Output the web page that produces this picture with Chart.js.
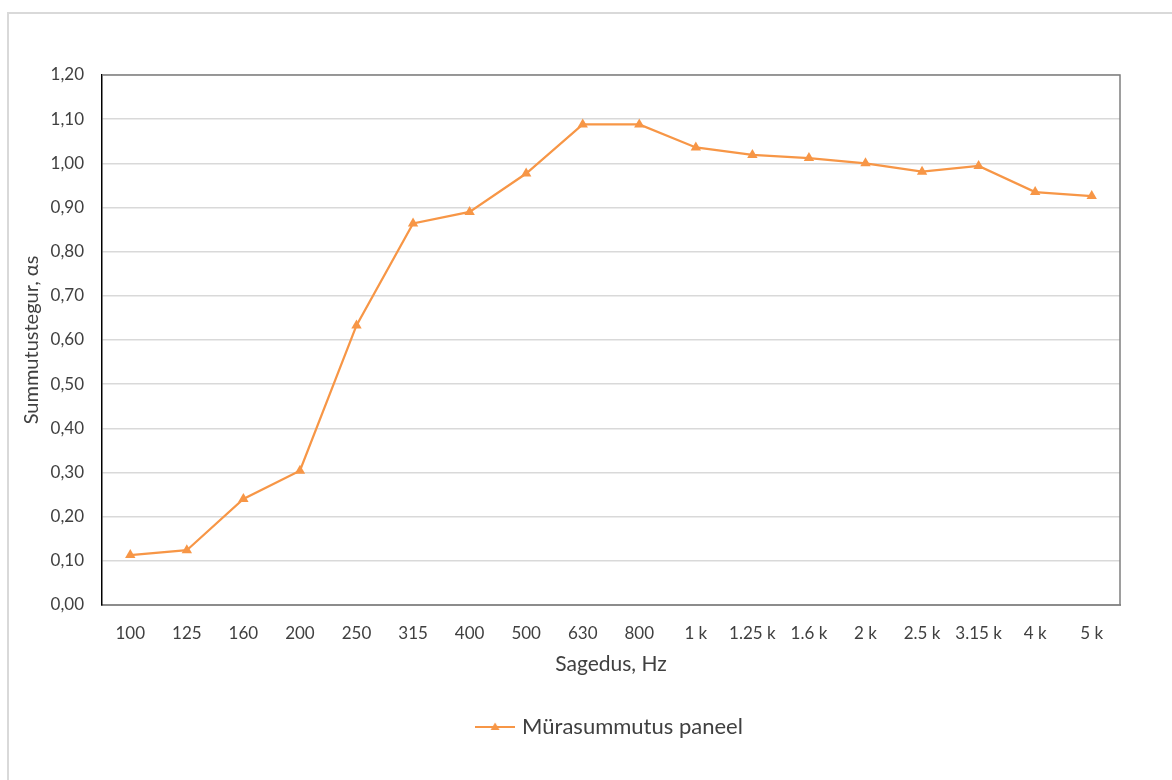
<!DOCTYPE html>
<html>
<head>
<meta charset="utf-8">
<script src="https://cdn.jsdelivr.net/npm/chart.js@4/dist/chart.umd.min.js"></script>
<style>
  html, body { margin: 0; padding: 0; background: #fff; }
  #frame {
    position: absolute; left: 7px; top: 12px; width: 1200px; height: 800px;
    border-top: 2px solid #d9d9d9; border-left: 2px solid #d9d9d9;
    box-sizing: border-box;
  }
  #wrap { position: absolute; left: 0; top: 0; width: 1172px; height: 780px; }
</style>
</head>
<body>
<div id="frame"></div>
<div id="wrap"><canvas id="chart" width="1172" height="780"></canvas></div>
<script>
// Frequency bands (Hz) and measured sound absorption coefficient
const categories = ['100', '125', '160', '200', '250', '315', '400', '500', '630', '800',
                    '1 k', '1.25 k', '1.6 k', '2 k', '2.5 k', '3.15 k', '4 k', '5 k'];
const absorption = [0.113, 0.124, 0.240, 0.304, 0.633, 0.864, 0.890, 0.977, 1.088, 1.088,
                    1.036, 1.019, 1.012, 1.000, 0.981, 0.994, 0.935, 0.926];
const seriesName = 'Mürasummutus paneel';
const xTitle = 'Sagedus, Hz';
const yTitle = 'Summutustegur, αs';
const yMin = 0, yMax = 1.2, yStep = 0.1;

const ORANGE = '#f79646';
const TEXT = '#404040';
const FONT = 'Lato, "Open Sans", sans-serif';

// Legend symbol: short line with a triangle marker on it
function legendSymbol() {
  const c = document.createElement('canvas');
  c.width = 40; c.height = 12;
  const g = c.getContext('2d');
  g.strokeStyle = ORANGE; g.lineWidth = 2;
  g.beginPath(); g.moveTo(0, 6); g.lineTo(40, 6); g.stroke();
  g.fillStyle = ORANGE;
  g.beginPath(); g.moveTo(20, 1.5); g.lineTo(24.5, 9); g.lineTo(15.5, 9); g.closePath(); g.fill();
  return c;
}

// Top and right edges of the plot box
const plotFrame = {
  id: 'plotFrame',
  afterDraw(chart) {
    const { ctx, chartArea: a } = chart;
    ctx.save();
    ctx.strokeStyle = '#7f7f7f';
    ctx.lineWidth = 1.5;
    ctx.beginPath();
    ctx.moveTo(a.left, a.top); ctx.lineTo(a.right, a.top); ctx.lineTo(a.right, a.bottom);
    ctx.stroke();
    ctx.restore();
  }
};

// Center the legend under the plot area instead of the whole canvas
const legendUnderPlot = {
  id: 'legendUnderPlot',
  afterLayout(chart) {
    const lg = chart.legend, a = chart.chartArea;
    if (!lg) return;
    const shift = (a.left + a.right) / 2 - (lg.left + lg.right) / 2;
    lg.left += shift; lg.right += shift;
  }
};

new Chart(document.getElementById('chart'), {
  type: 'line',
  data: {
    labels: categories,
    datasets: [{
      label: seriesName,
      data: absorption,
      borderColor: ORANGE,
      backgroundColor: ORANGE,
      borderWidth: 2.25,
      pointStyle: 'triangle',
      pointRadius: 6,
      pointBorderWidth: 0,
      pointBackgroundColor: ORANGE,
      tension: 0
    }]
  },
  options: {
    responsive: false,
    animation: false,
    devicePixelRatio: 1,
    layout: { padding: { left: 12, right: 52, top: 75, bottom: 32 } },
    plugins: {
      tooltip: { enabled: false },
      legend: {
        position: 'bottom',
        labels: {
          usePointStyle: true,
          pointStyle: legendSymbol(),
          pointStyleWidth: 32,
          color: TEXT,
          font: { family: FONT, size: 22 },
          padding: 35
        }
      }
    },
    scales: {
      x: {
        offset: true,
        grid: { display: false, offset: true },
        border: { color: '#8c8c8c', width: 2 },
        ticks: { color: TEXT, font: { family: FONT, size: 17 }, padding: 10, maxRotation: 0, autoSkip: false },
        title: { display: true, text: xTitle, color: TEXT, font: { family: FONT, size: 21 }, padding: { top: 4, bottom: 4 } },
        afterFit(s) { s.height = 76; }
      },
      y: {
        min: yMin, max: yMax,
        grid: { color: '#d9d9d9', lineWidth: 1.5, drawTicks: false },
        border: { color: '#000000', width: 1.5 },
        ticks: {
          stepSize: yStep, color: TEXT, font: { family: FONT, size: 17 }, padding: 18,
          callback: v => v.toFixed(2).replace('.', ',')
        },
        title: { display: true, text: yTitle, color: TEXT, font: { family: FONT, size: 20 }, padding: { top: 8, bottom: 4 } },
        afterFit(s) { s.width = 90; }
      }
    }
  },
  plugins: [plotFrame, legendUnderPlot]
});
</script>
</body>
</html>
